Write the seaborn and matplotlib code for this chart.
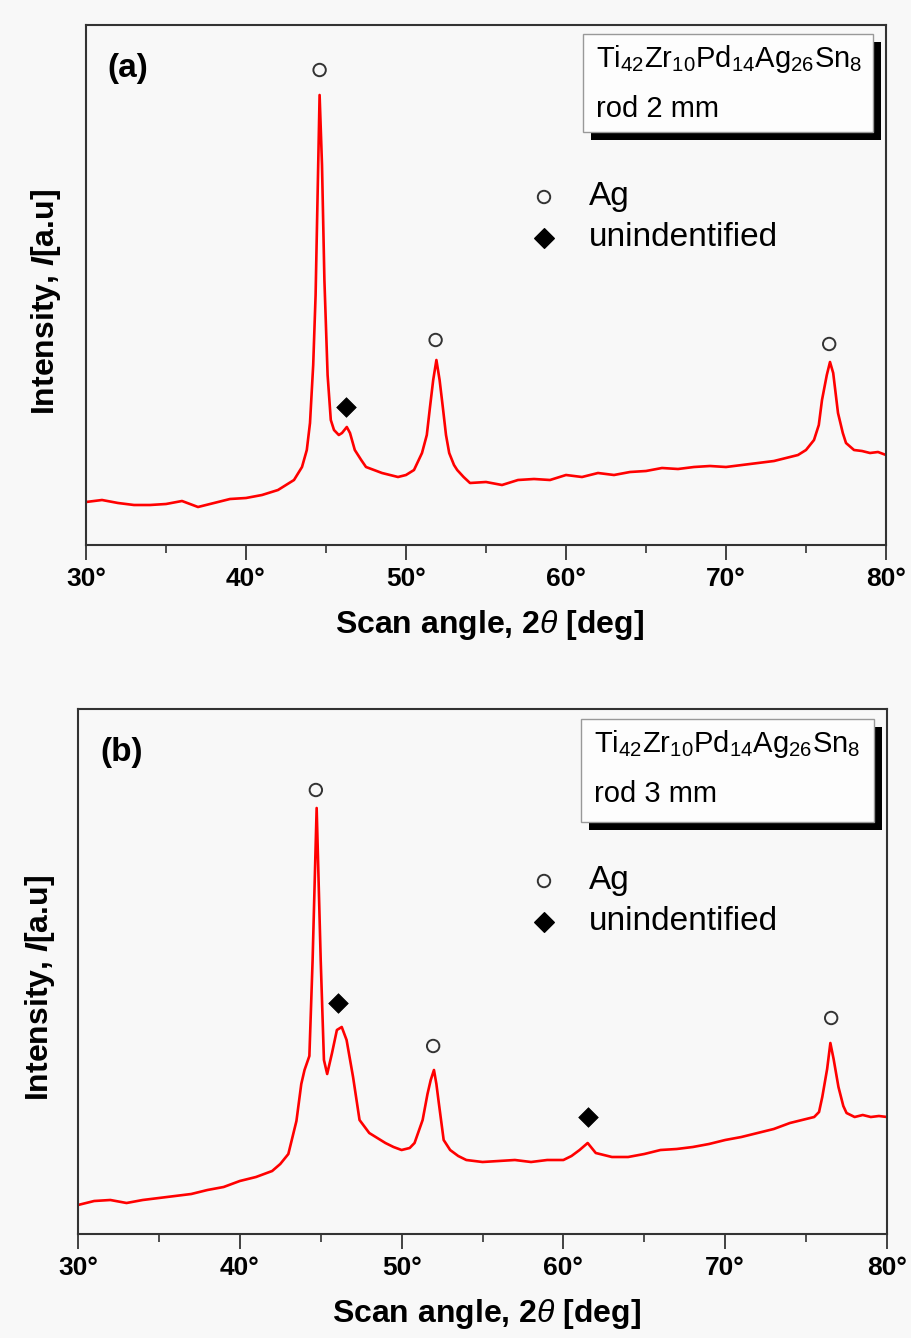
import matplotlib
matplotlib.use("Agg")
import matplotlib.pyplot as plt
from matplotlib.patches import Rectangle
from matplotlib.ticker import MultipleLocator, FuncFormatter
import seaborn as sns
import pandas as pd

# ---------------- data ----------------
two_theta_a = [30, 31, 32, 33, 34, 35, 36, 37, 38, 39, 40, 41, 42, 43, 43.5, 43.8, 44.0, 44.2,
               44.35, 44.6, 44.75, 44.9, 45.1, 45.3, 45.5, 45.8, 46.0, 46.3, 46.5, 46.8, 47.2,
               47.5, 48.0, 48.5, 49.0, 49.5, 50.0, 50.5, 51.0, 51.3, 51.5, 51.7, 51.9, 52.1,
               52.3, 52.5, 52.7, 53.0, 53.2, 53.6, 54.0, 55, 56, 57, 58, 59, 60, 61, 62, 63, 64,
               65, 66, 67, 68, 69, 70, 71, 72, 73, 74, 74.5, 75, 75.5, 75.8, 76.0, 76.3, 76.5,
               76.7, 77.0, 77.3, 77.5, 78, 78.5, 79, 79.5, 80]
intensity_a = [43, 45, 42, 40, 40, 41, 44, 38, 42, 46, 47, 50, 55, 65, 78, 95, 122, 180,
               250, 450, 380, 265, 170, 125, 115, 110, 112, 118, 112, 95, 85,
               78, 75, 72, 70, 68, 70, 75, 92, 110, 138, 165, 185, 165,
               138, 110, 92, 80, 75, 68, 62, 63, 60, 65, 66, 65, 70, 68, 72, 70, 73,
               74, 77, 76, 78, 79, 78, 80, 82, 84, 88, 90, 95, 105, 120, 145, 170, 183,
               172, 132, 112, 102, 95, 94, 92, 93, 90]

two_theta_b = [30, 31, 32, 33, 34, 35, 36, 37, 38, 39, 40, 41, 42, 42.5, 43, 43.5, 43.8, 44.0,
               44.3, 44.5, 44.75, 45.0, 45.2, 45.4, 45.7, 46.0, 46.3, 46.6, 47.0, 47.4, 48,
               48.5, 49, 49.5, 50, 50.5, 50.8, 51.3, 51.6, 51.8, 52.0, 52.15, 52.3, 52.6, 53,
               53.5, 54, 55, 56, 57, 58, 59, 60, 60.5, 61, 61.5, 62, 63, 64, 65, 66, 67, 68,
               69, 70, 71, 72, 73, 74, 75, 75.5, 75.8, 76.0, 76.3, 76.5, 76.7, 77.0, 77.3,
               77.5, 78, 78.5, 79, 79.5, 80]
intensity_b = [29, 33, 34, 31, 34, 36, 38, 40, 44, 47, 53, 57, 63, 70, 80, 113, 150, 164,
               178, 274, 426, 274, 174, 160, 181, 204, 207, 194, 157, 114, 101,
               96, 91, 87, 84, 86, 91, 114, 140, 154, 164, 150, 131, 94, 84,
               78, 74, 72, 73, 74, 72, 74, 74, 78, 84, 91, 81, 77, 77, 80, 84, 85, 87,
               90, 94, 97, 101, 105, 111, 115, 117, 122, 137, 165, 191, 175, 147, 128,
               121, 117, 119, 117, 118, 117]

ag_a_x, ag_a_y = [44.6, 51.85, 76.45], [475, 205, 201]
unk_a_x, unk_a_y = [46.25], [138]
ag_b_x, ag_b_y = [44.7, 51.95, 76.55], [444, 188, 216]
unk_b_x, unk_b_y = [46.1, 61.5], [231, 117]

x_ticks = [30, 40, 50, 60, 70, 80]
panel_labels = ["(a)", "(b)"]
sample_lines = [r"Ti$_{42}$Zr$_{10}$Pd$_{14}$Ag$_{26}$Sn$_{8}$", r"Ti$_{42}$Zr$_{10}$Pd$_{14}$Ag$_{26}$Sn$_{8}$"]
rod_lines = ["rod 2 mm", "rod 3 mm"]
legend_labels = ["Ag", "unindentified"]
xlabel_text = r"Scan angle, 2$\mathit{\theta}$ [deg]"
ylabel_text = r"Intensity, $\mathbfit{I}$[a.u]"

# ---------------- style ----------------
sns.set_theme(style="ticks")
plt.rcParams["font.family"] = ["Liberation Sans", "DejaVu Sans"]
plt.rcParams["mathtext.fontset"] = "custom"
plt.rcParams["mathtext.rm"] = "Liberation Sans"
plt.rcParams["mathtext.it"] = "Liberation Sans:italic"
plt.rcParams["mathtext.bf"] = "Liberation Sans:bold"
plt.rcParams["mathtext.bfit"] = "Liberation Sans:bold:italic"
plt.rcParams["mathtext.default"] = "regular"
plt.rcParams["text.color"] = "black"
plt.rcParams["axes.labelcolor"] = "black"
plt.rcParams["xtick.color"] = "black"
plt.rcParams["xtick.labelcolor"] = "black"

BG = "#f8f8f8"
W, H = 911, 1338
fig = plt.figure(figsize=(W / 100, H / 100), dpi=100, facecolor=BG)


def fx(px):
    return px / W


def fy(py):
    return 1 - py / H


panels = [
    dict(box=(86, 25, 886, 545), ylim=520, tt=two_theta_a, it=intensity_a,
         agx=ag_a_x, agy=ag_a_y, ux=unk_a_x, uy=unk_a_y,
         tbox=(583, 34, 873, 132), ylab=(46, 302), xlab_y=608, plabel=(107, 68)),
    dict(box=(78, 709, 887, 1234), ylim=525, tt=two_theta_b, it=intensity_b,
         agx=ag_b_x, agy=ag_b_y, ux=unk_b_x, uy=unk_b_y,
         tbox=(581, 719, 874, 822), ylab=(40, 988), xlab_y=1297, plabel=(100, 752)),
]

for i, p in enumerate(panels):
    x0, y0, x1, y1 = p["box"]
    ax = fig.add_axes([fx(x0), fy(y1), fx(x1) - fx(x0), fy(y0) - fy(y1)])
    ax.set_facecolor(BG)
    df = pd.DataFrame({"two_theta": p["tt"], "intensity": p["it"]})
    sns.lineplot(data=df, x="two_theta", y="intensity", ax=ax, color="#ff0000",
                 linewidth=1.9, estimator=None, sort=False)
    sns.scatterplot(x=p["agx"], y=p["agy"], ax=ax, marker="o", s=80,
                    facecolor="none", edgecolor="#333333", linewidth=1.4, zorder=5)
    sns.scatterplot(x=p["ux"], y=p["uy"], ax=ax, marker="D", s=100,
                    color="black", edgecolor="black", linewidth=0.5, zorder=5)

    ax.set_xlim(30, 80)
    ax.set_ylim(0, p["ylim"])
    ax.set_yticks([])
    ax.set_xticks(x_ticks)
    ax.xaxis.set_minor_locator(MultipleLocator(5))
    ax.xaxis.set_major_formatter(FuncFormatter(lambda v, pos: f"{int(v)}°"))
    ax.tick_params(axis="x", which="major", direction="out", length=11, width=1.3,
                   color="#333333", pad=5, labelsize=19)
    ax.tick_params(axis="x", which="minor", direction="out", length=6, width=1.2,
                   color="#333333")
    for lab in ax.get_xticklabels():
        lab.set_fontweight("bold")
    for sp in ax.spines.values():
        sp.set_visible(True)
        sp.set_color("#333333")
        sp.set_linewidth(1.5)

    ax.set_xlabel("")
    ax.set_ylabel("")
    # axis labels
    fig.text(fx((x0 + x1) / 2 + 4), fy(p["xlab_y"]), xlabel_text, ha="center", va="top",
             fontsize=23, fontweight="bold")
    fig.text(fx(p["ylab"][0]), fy(p["ylab"][1]), ylabel_text, ha="center", va="center",
             rotation=90, fontsize=23, fontweight="bold")

    # panel label
    fig.text(fx(p["plabel"][0]), fy(p["plabel"][1]), panel_labels[i], ha="left", va="center",
             fontsize=24, fontweight="bold")

    # sample box with shadow
    bx0, by0, bx1, by1 = p["tbox"]
    sh = 8
    fig.patches.append(Rectangle((fx(bx0 + sh), fy(by1 + sh)), fx(bx1 - bx0), fy(by0) - fy(by1),
                                 transform=fig.transFigure, facecolor="black",
                                 edgecolor="none", zorder=10))
    fig.patches.append(Rectangle((fx(bx0), fy(by1)), fx(bx1 - bx0), fy(by0) - fy(by1),
                                 transform=fig.transFigure, facecolor="#fdfdfd",
                                 edgecolor="#999999", linewidth=1.0, zorder=11))
    fig.text(fx(bx0 + 13), fy(by0 + 33), sample_lines[i], ha="left", va="baseline",
             fontsize=21, zorder=12)
    fig.text(fx(bx0 + 13), fy(by0 + 83), rod_lines[i], ha="left", va="baseline",
             fontsize=21, zorder=12)

    # legend (manual)
    ly = y0 + 172
    ax.scatter([fx(544)], [fy(ly)], transform=fig.transFigure, marker="o", s=80,
               facecolor="none", edgecolor="#333333", linewidth=1.4, zorder=6)
    ax.scatter([fx(544)], [fy(ly + 41)], transform=fig.transFigure, marker="D", s=100,
               color="black", zorder=6)
    fig.text(fx(589), fy(ly), legend_labels[0], ha="left", va="center", fontsize=24)
    fig.text(fx(589), fy(ly + 41), legend_labels[1], ha="left", va="center", fontsize=24)

fig.savefig("out.png", dpi=100, facecolor=BG)
